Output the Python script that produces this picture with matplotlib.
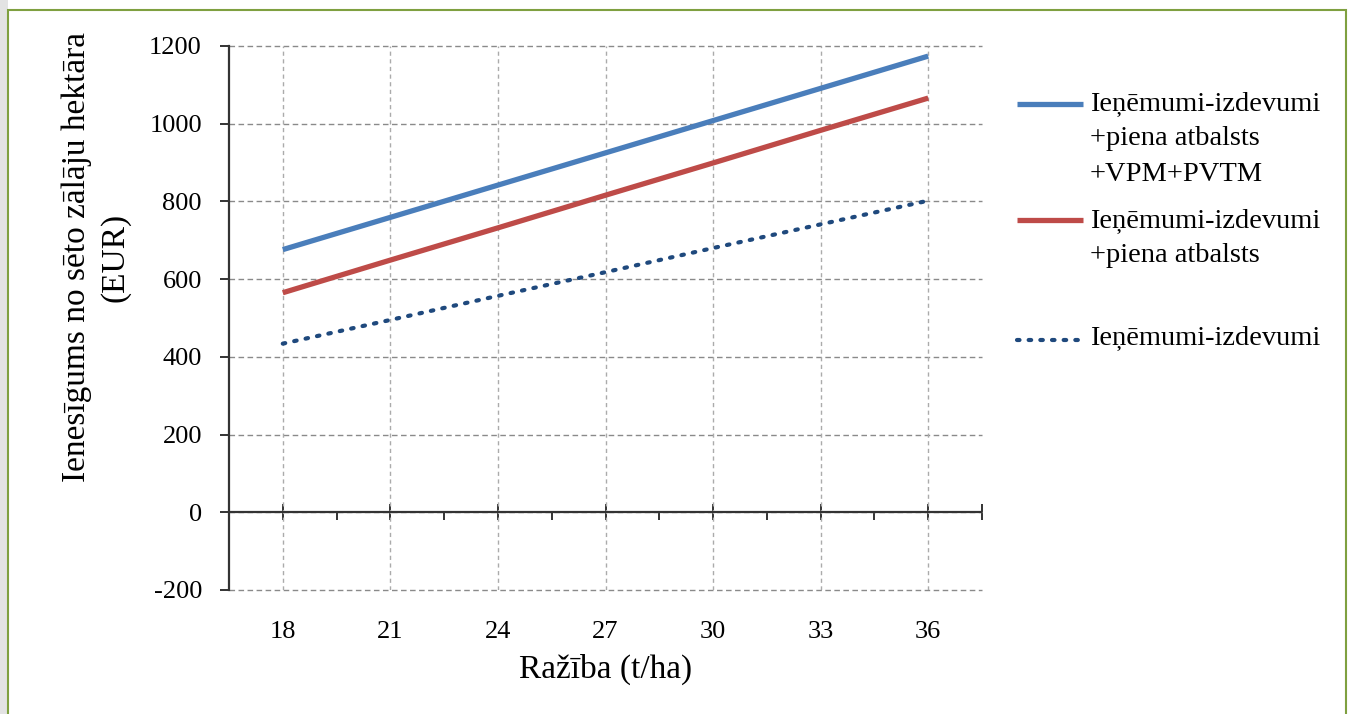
import matplotlib
matplotlib.use("Agg")
import matplotlib.pyplot as plt
from matplotlib.lines import Line2D
from matplotlib.patches import Rectangle
import numpy as np

# ---- data ----
yield_t_ha = [18, 21, 24, 27, 30, 33, 36]
series_full = [676, 759, 842, 925, 1008, 1091, 1174]   # +piena atbalsts +VPM+PVTM
series_milk = [565, 649, 732, 816, 899, 983, 1066]     # +piena atbalsts
series_base = [434, 495, 557, 618, 680, 741, 802]      # Ieņēmumi-izdevumi
x_tick_labels = ["18", "21", "24", "27", "30", "33", "36"]
y_ticks = [-200, 0, 200, 400, 600, 800, 1000, 1200]
legend_labels = ["Ieņēmumi-izdevumi\n+piena atbalsts\n+VPM+PVTM",
                 "Ieņēmumi-izdevumi\n+piena atbalsts",
                 "Ieņēmumi-izdevumi"]
x_label = "Ražība (t/ha)"
y_label = "Ienesīgums no sēto zālāju hektāra\n(EUR)"

plt.rcParams['font.family'] = ['Liberation Serif', 'DejaVu Serif']

W, H = 1354, 714
fig = plt.figure(figsize=(W / 100, H / 100), dpi=100)
fig.patch.set_facecolor('white')

# decorative frame
fig.patches.append(Rectangle((0, 0), 8 / W, 1, transform=fig.transFigure,
                             facecolor='#e3e3e3', edgecolor='none', zorder=-10))
fig.patches.append(Rectangle((8 / W, -0.05), (1346 - 8) / W, 1.05 - 10 / H,
                             transform=fig.transFigure, facecolor='white',
                             edgecolor='#7fa040', linewidth=1.5, zorder=-10))

ax = fig.add_axes([229 / W, 1 - 590 / H, (982 - 229) / W, (590 - 46) / H])
ax.set_facecolor('none')
ax.set_zorder(5)

colors = ['#4a7ebb', '#be4b48', '#1f497d']
ax.plot(yield_t_ha, series_full, color=colors[0], lw=3.8, solid_capstyle='butt', zorder=3)
ax.plot(yield_t_ha, series_milk, color=colors[1], lw=3.8, solid_capstyle='butt', zorder=3)
ax.plot(yield_t_ha, series_base, color=colors[2], lw=3.0, linestyle=(0, (0.6, 2.2)),
        dash_capstyle='round', zorder=3)

xmin = yield_t_ha[0] - 1.5
xmax = yield_t_ha[-1] + 1.5
ax.set_xlim(xmin, xmax)
ax.set_ylim(y_ticks[0], y_ticks[-1])

# grid
for yv in y_ticks:
    ax.axhline(yv, color='#8a8a8a', lw=1.0, ls=(0, (4, 2.5)), zorder=1, clip_on=False)
for xv in yield_t_ha:
    ax.axvline(xv, color='#ababab', lw=1.0, ls=(0, (3, 2.5)), zorder=1)

for s in ['top', 'right', 'bottom']:
    ax.spines[s].set_visible(False)
ax.spines['left'].set_color('#333333')
ax.spines['left'].set_linewidth(1.6)
ax.spines['left'].set_zorder(2.5)

ax.set_yticks(y_ticks)
ax.set_yticklabels([str(v) for v in y_ticks])
ax.tick_params(axis='y', direction='out', length=6.5, width=1.4, color='#333333',
               labelsize=19, pad=13)
ax.set_xticks(yield_t_ha)
ax.set_xticklabels(x_tick_labels)
ax.tick_params(axis='x', length=0, labelsize=19, pad=22)

# x axis line crossing at y=0
ax.axhline(0, color='#333333', lw=1.6, zorder=2.5)
sec = ax.secondary_xaxis((0 - y_ticks[0]) / (y_ticks[-1] - y_ticks[0]))
sec.spines['bottom'].set_visible(False)
sec.set_xticks(yield_t_ha + [xmax])
sec.set_xticks([v + 1.5 for v in yield_t_ha[:-1]], minor=True)
sec.tick_params(axis='x', which='major', direction='inout', length=12, width=1.4,
                color='#333333', labelbottom=False)
sec.tick_params(axis='x', which='minor', direction='out', length=6, width=1.4,
                color='#333333', labelbottom=False)

ax.set_xlabel(x_label, fontsize=24, labelpad=8)
fig.text(96 / W, 1 - 257 / H, y_label, rotation=90, ha='center', va='center',
         fontsize=24, linespacing=1.35)

# legend (manual)
leg_y_line = [104, 220, 340]
leg_y_text = [107, 224, 341]
styles = [dict(color=colors[0], lw=3.8, solid_capstyle='butt'),
          dict(color=colors[1], lw=3.8, solid_capstyle='butt'),
          dict(color=colors[2], lw=3.0, linestyle=(0, (0.6, 2.2)), dash_capstyle='round')]
for yl, yt, lab, st in zip(leg_y_line, leg_y_text, legend_labels, styles):
    fig.add_artist(Line2D([1017 / W, 1083 / W], [1 - yl / H, 1 - yl / H],
                          transform=fig.transFigure, **st))
    fig.text(1090 / W, 1 - (yt - 16) / H, lab, ha='left', va='top', fontsize=20.5,
             linespacing=1.55)

fig.savefig('out.png', dpi=100)
